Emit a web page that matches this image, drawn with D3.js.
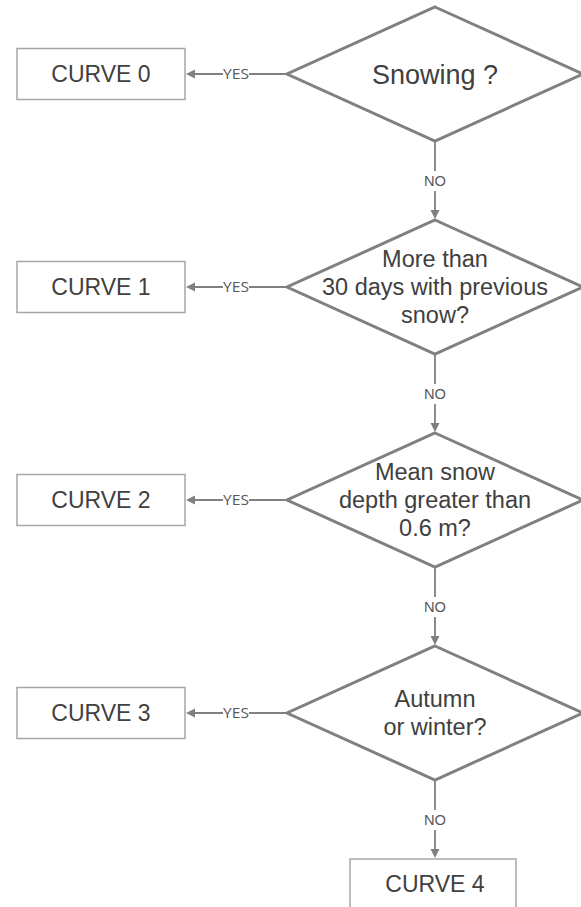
<!DOCTYPE html>
<html>
<head>
<meta charset="utf-8">
<script src="https://cdn.jsdelivr.net/npm/d3@7"></script>
<style>
  html, body { margin: 0; padding: 0; background: #ffffff; }
  svg { display: block; }
</style>
</head>
<body>
<div id="chart"></div>
<script>
// ---- data ----
const questions = [
  ["Snowing ?"],
  ["More than", "30 days with previous", "snow?"],
  ["Mean snow", "depth greater than", "0.6 m?"],
  ["Autumn", "or winter?"]
];
const outcomes = ["CURVE 0", "CURVE 1", "CURVE 2", "CURVE 3"];
const finalOutcome = "CURVE 4";
const yesLabel = "YES";
const noLabel = "NO";

// ---- layout ----
const W = 581, H = 907;
const svg = d3.select("#chart").append("svg").attr("width", W).attr("height", H);

const levels = d3.range(questions.length + 1);
const y = d3.scaleLinear().domain([0, 3]).range([74, 713]);
const x = d3.scaleLinear().domain([0, 1]).range([17, 435]); // 0: box left, 1: diamond centre

const cx = x(1);
const hw = 148, hh = 67;
const boxW = 168, boxH = 51;
const lineCol = "#808080";
const boxCol = "#a6a6a6";
const textCol = "#404040";
const labelCol = "#595959";

function arrowHead(g, tipX, tipY, dir) {
  const L = 9, Hh = 4.5;
  let pts;
  if (dir === "left") pts = [[tipX, tipY], [tipX + L, tipY - Hh], [tipX + L, tipY + Hh]];
  else pts = [[tipX, tipY], [tipX - Hh, tipY - L], [tipX + Hh, tipY - L]];
  g.append("path").attr("d", d3.line()(pts) + "Z").attr("fill", lineCol);
}

// diamonds
const dg = svg.append("g");
questions.forEach((q, i) => {
  const cy = y(i);
  const pts = [[cx, cy - hh], [cx + hw, cy], [cx, cy + hh], [cx - hw, cy]];
  dg.append("path").attr("d", d3.line()(pts) + "Z")
    .attr("fill", "none").attr("stroke", lineCol).attr("stroke-width", 3)
    .attr("stroke-linejoin", "miter");
  const fs = q.length === 1 ? 27 : 23.5;
  const lh = 28;
  q.forEach((t, j) => {
    dg.append("text")
      .attr("x", cx).attr("y", cy + (j - (q.length - 1) / 2) * lh)
      .attr("dy", "0.36em")
      .attr("text-anchor", "middle")
      .attr("font-family", "'Liberation Sans', Arial, sans-serif")
      .attr("font-size", fs).attr("fill", textCol)
      .text(t);
  });
});

// outcome boxes
const bg = svg.append("g");
outcomes.forEach((o, i) => {
  const cy = y(i);
  bg.append("rect").attr("x", x(0)).attr("y", cy - boxH / 2)
    .attr("width", boxW).attr("height", boxH)
    .attr("fill", "#fff").attr("stroke", boxCol).attr("stroke-width", 1.5);
  bg.append("text").attr("x", x(0) + boxW / 2).attr("y", cy).attr("dy", "0.36em")
    .attr("text-anchor", "middle")
    .attr("font-family", "'Liberation Sans', Arial, sans-serif")
    .attr("font-size", 23).attr("fill", textCol).text(o);

  // YES arrow
  const x0 = cx - hw, x1 = x(0) + boxW + 1;
  bg.append("line").attr("x1", x0).attr("x2", x1 + 8).attr("y1", cy).attr("y2", cy)
    .attr("stroke", lineCol).attr("stroke-width", 1.8);
  arrowHead(bg, x1, cy, "left");
  const lx = 236;
  bg.append("rect").attr("x", lx - 13).attr("y", cy - 9).attr("width", 26).attr("height", 18).attr("fill", "#fff");
  bg.append("text").attr("x", lx).attr("y", cy).attr("dy", "0.36em")
    .attr("text-anchor", "middle")
    .attr("font-family", "'Open Sans', sans-serif")
    .attr("font-size", 15).attr("fill", labelCol)
    .attr("textLength", 26).attr("lengthAdjust", "spacingAndGlyphs")
    .text(yesLabel);
});

// NO arrows
const ng = svg.append("g");
levels.slice(1).forEach(i => {
  const yTop = y(i - 1) + hh, yBot = y(i) - hh - 1;
  ng.append("line").attr("x1", cx).attr("x2", cx).attr("y1", yTop).attr("y2", yBot - 8)
    .attr("stroke", lineCol).attr("stroke-width", 1.8);
  arrowHead(ng, cx, yBot, "down");
  const ly = (yTop + yBot) / 2 + 1;
  ng.append("rect").attr("x", cx - 13).attr("y", ly - 10).attr("width", 26).attr("height", 20).attr("fill", "#fff");
  ng.append("text").attr("x", cx).attr("y", ly).attr("dy", "0.36em")
    .attr("text-anchor", "middle")
    .attr("font-family", "'Liberation Sans', Arial, sans-serif")
    .attr("font-size", 15).attr("fill", labelCol)
    .attr("textLength", 22).attr("lengthAdjust", "spacingAndGlyphs")
    .text(noLabel);
});

// final box
const fy = y(4) - hh;
svg.append("rect").attr("x", cx - boxW / 2 - 1).attr("y", fy).attr("width", boxW - 2).attr("height", boxH)
  .attr("fill", "#fff").attr("stroke", boxCol).attr("stroke-width", 1.5);
svg.append("text").attr("x", cx).attr("y", fy + 25).attr("dy", "0.36em")
  .attr("text-anchor", "middle")
  .attr("font-family", "'Liberation Sans', Arial, sans-serif")
  .attr("font-size", 23).attr("fill", textCol).text(finalOutcome);
</script>
</body>
</html>
